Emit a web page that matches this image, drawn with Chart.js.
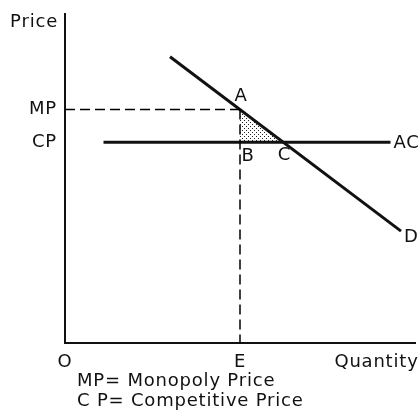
<!DOCTYPE html>
<html>
<head>
<meta charset="utf-8">
<script src="https://cdn.jsdelivr.net/npm/chart.js@4/dist/chart.umd.min.js"></script>
<style>
html,body{margin:0;padding:0;background:#fff;}
#c{display:block;}
</style>
</head>
<body>
<canvas id="c" width="419" height="413"></canvas>
<script>
// ---- data ----
const yTickValues = [71, 61];
const yTickLabels = ['MP', 'CP'];
const xTickValues = [0, 50, 89];
const xTickLabels = ['O', 'E', 'Quantity'];
const demandCurve = [{x: 30, y: 87}, {x: 96, y: 34}];
const averageCostCurve = [{x: 11, y: 61}, {x: 93, y: 61}];
const monopolyPrice = 71;
const competitivePrice = 61;
const monopolyQuantity = 50;
const competitiveQuantity = 62.4;
const pointNames = ['A', 'B', 'C'];
const curveNames = ['AC', 'D'];
const axisNames = ['Price'];
const notes = ['MP= Monopoly Price', 'C P= Competitive Price'];

// derived
const pointA = {x: monopolyQuantity, y: monopolyPrice};
const pointB = {x: monopolyQuantity, y: competitivePrice};
const pointC = {x: competitiveQuantity, y: competitivePrice};

const ink = '#111';
const FONT = '18px "DejaVu Sans"';

function dotPattern() {
  const p = document.createElement('canvas');
  p.width = 4; p.height = 4;
  const g = p.getContext('2d');
  g.fillStyle = '#222';
  g.fillRect(0, 0, 1, 1);
  g.fillRect(2, 2, 1, 1);
  return document.getElementById('c').getContext('2d').createPattern(p, 'repeat');
}

const textPlugin = {
  id: 'texts',
  afterDraw(chart) {
    const {ctx, scales: {x, y}} = chart;
    const px = v => x.getPixelForValue(v);
    const py = v => y.getPixelForValue(v);
    ctx.save();
    ctx.font = FONT;
    ctx.fillStyle = ink;
    ctx.textBaseline = 'middle';
    if ('letterSpacing' in ctx) ctx.letterSpacing = '0.8px';
    // axis name
    ctx.textAlign = 'right';
    ctx.fillText(axisNames[0], 58, 22);
    // y tick labels
    yTickValues.forEach((v, i) => ctx.fillText(yTickLabels[i], 57, py(v)));
    // x tick labels
    ctx.textAlign = 'center';
    xTickValues.forEach((v, i) => ctx.fillText(xTickLabels[i], px(v), 362));
    // point labels
    ctx.fillText(pointNames[0], px(pointA.x) + 1, py(pointA.y) - 13);
    ctx.fillText(pointNames[1], px(pointB.x) + 8, py(pointB.y) + 14);
    ctx.fillText(pointNames[2], px(pointC.x) + 1, py(pointC.y) + 13);
    // curve labels
    ctx.textAlign = 'left';
    const acEnd = averageCostCurve[averageCostCurve.length - 1];
    ctx.fillText(curveNames[0], px(acEnd.x) + 3, py(acEnd.y) + 1);
    const dEnd = demandCurve[demandCurve.length - 1];
    ctx.fillText(curveNames[1], px(dEnd.x) + 3, py(dEnd.y) + 6);
    // notes
    notes.forEach((t, i) => ctx.fillText(t, 77, 381 + i * 20));
    ctx.restore();
  }
};

const base = {showLine: true, pointRadius: 0, borderColor: ink, fill: false, tension: 0};

new Chart(document.getElementById('c'), {
  type: 'scatter',
  data: {
    datasets: [
      Object.assign({}, base, {
        label: 'triangle',
        data: [pointA, pointB, pointC, pointA],
        borderWidth: 0,
        fill: 'shape',
        backgroundColor: dotPattern()
      }),
      Object.assign({}, base, {
        label: 'MP',
        data: [{x: 0, y: monopolyPrice}, pointA],
        borderWidth: 1.5,
        borderColor: '#000',
        borderDash: [10, 5]
      }),
      Object.assign({}, base, {
        label: 'E',
        data: [pointA, {x: monopolyQuantity, y: 0}],
        borderWidth: 1.5,
        borderColor: '#000',
        borderDash: [10, 5]
      }),
      Object.assign({}, base, {
        label: 'AC',
        data: averageCostCurve,
        borderWidth: 3
      }),
      Object.assign({}, base, {
        label: 'D',
        data: demandCurve,
        borderWidth: 3
      })
    ]
  },
  options: {
    responsive: false,
    animation: false,
    devicePixelRatio: 1,
    layout: {padding: {top: 14, right: 4, left: 0, bottom: 0}},
    plugins: {legend: {display: false}, tooltip: {enabled: false}},
    scales: {
      x: {
        type: 'linear', min: 0, max: 100,
        grid: {display: false, drawTicks: false},
        border: {display: true, color: ink, width: 2},
        ticks: {display: false},
        afterFit: s => { s.height = 70; }
      },
      y: {
        type: 'linear', min: 0, max: 100,
        grid: {display: false, drawTicks: false},
        border: {display: true, color: ink, width: 2},
        ticks: {display: false},
        afterFit: s => { s.width = 65; }
      }
    }
  },
  plugins: [textPlugin]
});
</script>
</body>
</html>
